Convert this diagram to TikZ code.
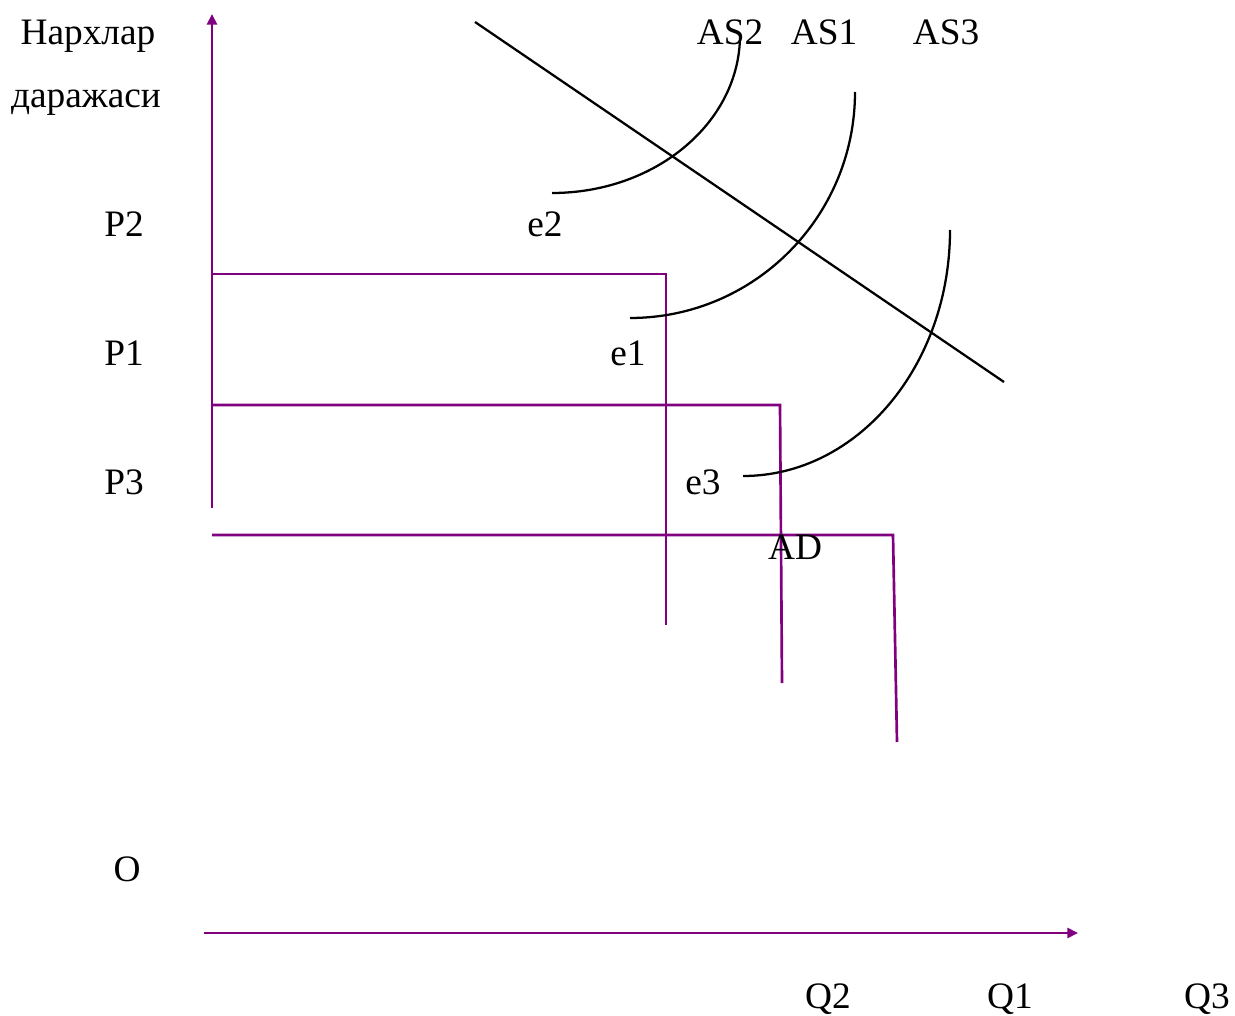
\documentclass[tikz,border=0pt]{standalone}
\usepackage{fontspec}
\setmainfont{Liberation Serif}
\usetikzlibrary{arrows.meta}
\definecolor{axpurple}{RGB}{128,0,128}
\tikzset{
  lbl/.style={font=\fontsize{28}{33}\selectfont, inner sep=0pt, text height=18.5pt, text depth=0pt},
  pline/.style={draw=axpurple, line width=2pt},
  axis/.style={pline, -{Triangle[length=8pt,width=7.5pt]}},
  bline/.style={draw=black, line width=1.7pt},
}
\begin{document}
\begin{tikzpicture}[x=0.75pt,y=-0.75pt]
\useasboundingbox (0,0) rectangle (1235,1016);
% axes
\coordinate (ybot) at (212,508);
\coordinate (ytop) at (212,14);
\coordinate (xl) at (204,933);
\coordinate (xr) at (1078,933);
\draw[axis] (ybot) -- (ytop);
\draw[axis] (xl) -- (xr);
% price-quantity lines
\coordinate (p2a) at (212,274); \coordinate (p2b) at (666,274); \coordinate (p2c) at (666,625);
\coordinate (p1a) at (212,405); \coordinate (p1b) at (780,405); \coordinate (p1c) at (782,683);
\coordinate (p3a) at (212,535); \coordinate (p3b) at (893,535); \coordinate (p3c) at (897,742);
\draw[pline] (p2a) -- (p2b) -- (p2c);
\draw[pline] (p1a) -- (p1b) -- (p1c);
\draw[pline] (p3a) -- (p3b) -- (p3c);
% AD line
\coordinate (ad1) at (475,22); \coordinate (ad2) at (1004,382);
\draw[bline] (ad1) -- (ad2);
% AS curves (quarter ellipses)
\coordinate (as2s) at (552,193); \coordinate (as2e) at (740,35);
\draw[bline] (as2s) .. controls (655.8,193) and (740,122.3) .. (as2e);
\coordinate (as1s) at (630,318); \coordinate (as1e) at (855,92);
\draw[bline] (as1s) .. controls (754.3,318) and (855,216.8) .. (as1e);
\coordinate (as3s) at (743,476); \coordinate (as3e) at (950,230);
\draw[bline] (as3s) .. controls (857.3,476) and (950,365.9) .. (as3e);
% labels
\node[lbl] (ylab1) at (88,32) {Нархлар};
\node[lbl] (ylab2) at (86,95) {даражаси};
\node[lbl] (lp2) at (124,224) {P2};
\node[lbl] (lp1) at (124,353) {P1};
\node[lbl] (lp3) at (124,482) {P3};
\node[lbl] (lo) at (127,869) {O};
\node[lbl] (le2) at (545,224) {e2};
\node[lbl] (le1) at (628,353) {e1};
\node[lbl] (le3) at (703,482) {e3};
\node[lbl] (lad) at (795,547) {AD};
\node[lbl] (las2) at (730,32) {AS2};
\node[lbl] (las1) at (824,32) {AS1};
\node[lbl] (las3) at (946,32) {AS3};
\node[lbl] (lq2) at (828,996) {Q2};
\node[lbl] (lq1) at (1010,996) {Q1};
\node[lbl] (lq3) at (1207,996) {Q3};
\end{tikzpicture}
\end{document}
